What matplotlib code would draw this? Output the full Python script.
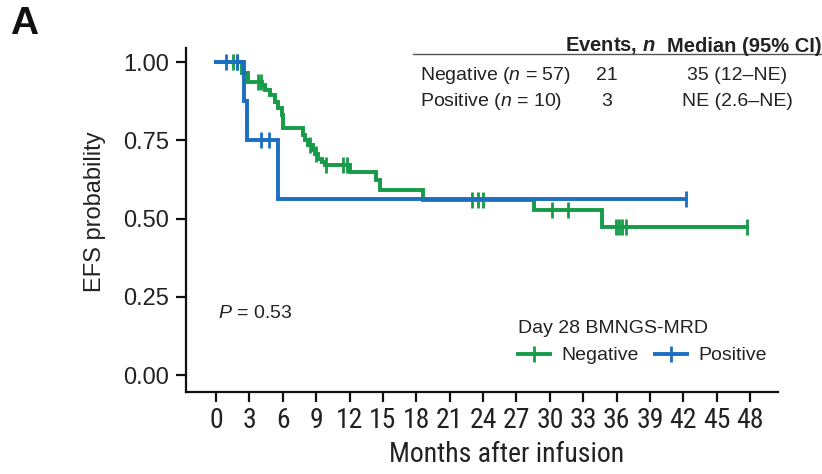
import os

import matplotlib
matplotlib.use("Agg")
import matplotlib.pyplot as plt
import numpy as np
from matplotlib import font_manager
from matplotlib.font_manager import FontProperties
from matplotlib.lines import Line2D

# Kaplan-Meier curves (month of each drop, level after it)
neg_times = [0, 2.3, 2.9, 4.15, 4.4, 4.85, 5.3, 5.6, 5.9, 6.0,
             7.8, 8.0, 8.3, 8.7, 8.9, 9.2, 9.5, 9.8,
             12.0, 14.4, 14.7, 18.6, 28.6, 34.7]
neg_surv = [1.0, 0.965, 0.936, 0.926, 0.91, 0.894, 0.872, 0.853, 0.83, 0.79,
            0.767, 0.751, 0.735, 0.72, 0.705, 0.69, 0.68, 0.672,
            0.648, 0.623, 0.592, 0.56, 0.527, 0.473]
neg_end = 47.7
neg_censor = [1.5, 1.9, 3.75, 4.05, 8.4, 9.0, 9.9, 11.4, 11.8,
              23.0, 23.5, 24.0, 30.2, 31.6, 35.9, 36.2, 36.5, 36.8, 47.7]

pos_times = [0, 2.5, 2.8, 5.6]
pos_surv = [1.0, 0.875, 0.75, 0.5625]
pos_end = 42.2
pos_censor = [0.9, 1.9, 4.0, 4.8, 42.2]

groups = ["Negative", "Positive"]
group_n = [57, 10]
group_events = [21, 3]
group_median = ["35 (12\u2013NE)", "NE (2.6\u2013NE)"]
p_value = "0.53"

x_ticks = list(range(0, 49, 3))
y_ticks = [0.0, 0.25, 0.5, 0.75, 1.0]

GREEN = "#169B48"
BLUE = "#1B6EC2"
TXT = "#222222"


def find_narrow():
    # look for any condensed sans face; fall back to None
    best = None
    for f in font_manager.fontManager.ttflist:
        tag = (f.name + " " + os.path.basename(f.fname)).lower()
        narrow = ("narrow" in tag or "condensed" in tag
                  or str(f.stretch) in ("condensed", "semi-condensed", "extra-condensed"))
        if not narrow or f.style != "normal":
            continue
        if f.weight not in (400, "normal", "regular", "book"):
            continue
        rank = 0 if "liberation" in tag else 1 if "roboto" in tag else 2 if "dejavu sans" in tag else 3
        if "mono" in tag or "serif" in tag and "sans" not in tag:
            rank += 10
        if best is None or rank < best[0]:
            best = (rank, f.fname)
    return best[1] if best else None


narrow_file = find_narrow()

plt.rcParams["font.family"] = ["Liberation Sans", "DejaVu Sans"]
plt.rcParams["mathtext.fontset"] = "custom"
plt.rcParams["mathtext.rm"] = "Liberation Sans"
plt.rcParams["mathtext.it"] = "Liberation Sans:italic"
plt.rcParams["mathtext.bf"] = "Liberation Sans:bold"
plt.rcParams["mathtext.bfit"] = "Liberation Sans:italic:bold"

if narrow_file:
    tick_fp = FontProperties(fname=narrow_file, size=20)
    xlab_fp = FontProperties(fname=narrow_file, size=20)
else:
    tick_fp = FontProperties(family="Liberation Sans", size=15.5)
    xlab_fp = FontProperties(family="Liberation Sans", size=16.5)

W, H = 822, 474
fig = plt.figure(figsize=(W / 100, H / 100), dpi=100)


def px(x, y):
    return x / W, 1 - y / H


# axes box in pixels: left 186, right 778, top 48, bottom 392
ax = fig.add_axes([186 / W, 1 - 392 / H, (778 - 186) / W, (392 - 48) / H])
ax.set_xlim(-2.7, 50.5)
ax.set_ylim(-0.054, 1.045)


def draw_km(times, surv, end, censor, color, z):
    t = list(times) + [end]
    s = list(surv) + [surv[-1]]
    ax.step(t, s, where="post", color=color, lw=2.8, zorder=z, solid_joinstyle="miter")
    idx = np.searchsorted(times, censor, side="right") - 1
    cs = np.asarray(surv)[idx]
    ax.plot(censor, cs, ls="none", marker="|", ms=11, mew=2.0, color=color, zorder=z)


draw_km(neg_times, neg_surv, neg_end, neg_censor, GREEN, 3)
draw_km(pos_times, pos_surv, pos_end, pos_censor, BLUE, 4)

for side in ("top", "right"):
    ax.spines[side].set_visible(False)
for side in ("left", "bottom"):
    ax.spines[side].set_linewidth(1.6)
    ax.spines[side].set_color("#111111")

ax.set_xticks(x_ticks)
ax.set_xticklabels([str(v) for v in x_ticks], color=TXT)
for lab in ax.get_xticklabels():
    lab.set_fontproperties(tick_fp)
ax.set_yticks(y_ticks)
ax.set_yticklabels([f"{v:.2f}" for v in y_ticks], fontsize=17, color=TXT)
ax.tick_params(axis="both", length=7, width=1.6, color="#111111")
ax.tick_params(axis="x", pad=4)
ax.tick_params(axis="y", pad=5)

fig.text(*px(507, 455), "Months after infusion", ha="center", va="center",
         fontproperties=xlab_fp, color=TXT)
fig.text(*px(95, 212), "EFS probability", ha="center", va="center",
         rotation=90, fontsize=17, color=TXT)
fig.text(*px(10, 24), "A", ha="left", va="center", fontsize=28, fontweight="bold", color="#111111")

ax.text(0.2, 0.198, f"$P$ = {p_value}", fontsize=14, color=TXT, va="center", ha="left")

# summary table in the upper right
fig.text(*px(610, 46), r"Events, $\mathbfit{n}$", ha="center", va="center",
         fontsize=14.5, fontweight="bold", color=TXT)
fig.text(*px(667, 46), "Median (95% CI)", ha="left", va="center",
         fontsize=14.5, fontweight="bold", color=TXT)
fig.add_artist(Line2D([413 / W, 1.0], [1 - 54 / H, 1 - 54 / H],
                      transform=fig.transFigure, color="#555555", lw=1.0))
for i, (g, n, ev, med) in enumerate(zip(groups, group_n, group_events, group_median)):
    yy = 76 + 25 * i
    fig.text(*px(420, yy), f"{g} ($n$ = {n})", ha="left", va="center", fontsize=14, color=TXT)
    fig.text(*px(607, yy), str(ev), ha="center", va="center", fontsize=14, color=TXT)
    fig.text(*px(737, yy), med, ha="center", va="center", fontsize=14, color=TXT)

handles = [Line2D([], [], color=GREEN, lw=2.8, marker="|", ms=11, mew=2.0),
           Line2D([], [], color=BLUE, lw=2.8, marker="|", ms=11, mew=2.0)]
leg = ax.legend(handles, groups, ncol=2, title="Day 28 BMNGS-MRD", frameon=False,
                loc="upper left", bbox_to_anchor=px(518, 320), bbox_transform=fig.transFigure,
                fontsize=14, title_fontsize=14, borderpad=0, handlelength=1.65,
                handletextpad=0.6, columnspacing=0.8, numpoints=1, alignment="left",
                borderaxespad=0)
for t in leg.get_texts():
    t.set_color(TXT)
leg.get_title().set_color(TXT)

fig.savefig("out.png", dpi=100)
